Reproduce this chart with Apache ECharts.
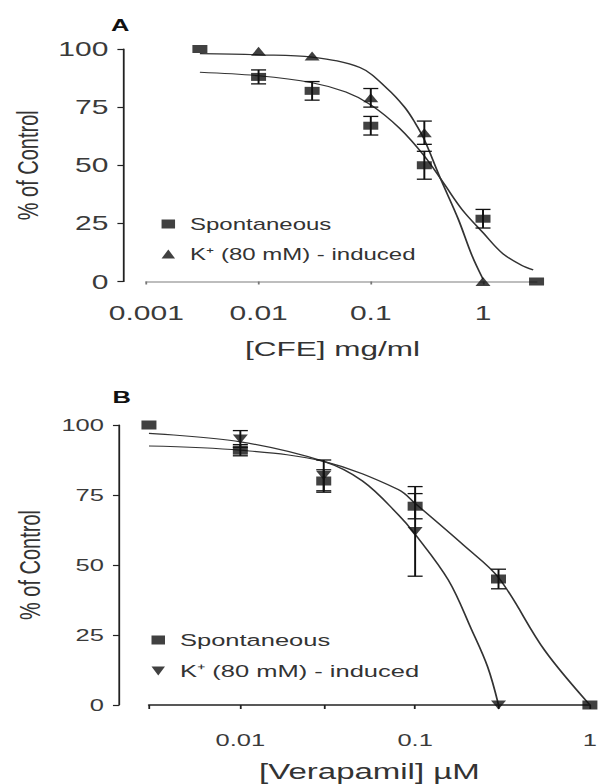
<!DOCTYPE html>
<html><head><meta charset="utf-8">
<script src="https://cdn.jsdelivr.net/npm/echarts@6/dist/echarts.min.js"></script>
<style>
html,body{margin:0;padding:0;background:#fff;overflow:hidden;width:602px;height:784px}
#chart{width:401.333px;height:784px;transform:scaleX(1.5);transform-origin:0 0;}
</style>
</head><body><div id="chart"></div>
<script>
// ---------- Panel A: CFE ----------
const aSpontConc = [0.003, 0.01, 0.03, 0.1, 0.3, 1, 3];
const aSpont     = [100, 88, 82, 67, 50, 27, 0];
const aSpontErr  = [0, 3, 4, 4, 6, 4, 0];
const aKConc     = [0.01, 0.03, 0.1, 0.3, 1];
const aK         = [99, 97, 79, 64, 0];
const aKErr      = [0, 0, 4, 5, 0];
const aSpontFitX = [0.003, 0.01, 0.03, 0.06, 0.1, 0.18, 0.3, 0.45, 0.65, 1, 1.5, 2.2, 2.8];
const aSpontFitY = [90, 88.5, 85.5, 81.5, 76, 66, 54, 42, 31, 21, 12, 7, 5];
const aKFitX     = [0.003, 0.01, 0.03, 0.08, 0.14, 0.2, 0.25, 0.3, 0.42, 0.6, 0.8, 1];
const aKFitY     = [98, 97.5, 96.5, 92, 83, 75, 68, 61, 44, 27, 11, 1];
const aTickLabels = ['0.001', '0.01', '0.1', '1'];
const aTickValues = [0.001, 0.01, 0.1, 1];

// ---------- Panel B: Verapamil ----------
const bSpontConc = [0.003, 0.01, 0.03, 0.1, 0.3, 1];
const bSpont     = [100, 91, 80, 71, 45, 0];
const bSpontErr  = [0, 2, 4, 4.5, 3.5, 0];
const bKConc     = [0.01, 0.03, 0.1, 0.3];
const bK         = [95, 82, 62, 0];
const bKErr      = [3, 5.5, 16, 0];
const bSpontFitX = [0.003, 0.01, 0.03, 0.08, 0.1, 0.19, 0.3, 0.55, 1];
const bSpontFitY = [92.5, 91, 87, 77, 72, 57, 45.5, 19.6, 0];
const bKFitX     = [0.003, 0.01, 0.03, 0.05, 0.08, 0.1, 0.155, 0.21, 0.26, 0.3];
const bKFitY     = [97, 94, 87, 80, 68, 61, 44.6, 27, 13.6, 0];
const bTickValues  = [0.003, 0.01, 0.03, 0.1, 0.3, 1];
const bLabelValues = [0.01, 0.1, 1];
const bTickLabels  = ['0.01', '0.1', '1'];

const yTicks = [0, 25, 50, 75, 100];
const nameSpont = 'Spontaneous';
const nameK = 'K\u207A (80 mM) - induced';

const FONT = "'Liberation Sans', Arial, sans-serif";
const INK = '#111';

function pairs(xs, ys) { return xs.map((x, i) => [x, ys[i]]); }
function errData(xs, ys, es) {
  return xs.map((x, i) => [x, ys[i] - es[i], ys[i] + es[i]]).filter((d, i) => es[i] > 0);
}
function labelFor(values, labels) {
  return function (v) {
    for (let i = 0; i < values.length; i++) {
      if (Math.abs(Math.log10(v) - Math.log10(values[i])) < 1e-6) return labels[i];
    }
    return '';
  };
}
function errRender(params, api) {
  const x = api.value(0), lo = api.value(1), hi = api.value(2);
  const pHi = api.coord([x, hi]), pLo = api.coord([x, lo]);
  const w = 5;
  const st = { stroke: INK, lineWidth: 1.3 };
  return {
    type: 'group', children: [
      { type: 'line', shape: { x1: pHi[0], y1: pHi[1], x2: pLo[0], y2: pLo[1] }, style: st },
      { type: 'line', shape: { x1: pHi[0] - w, y1: pHi[1], x2: pHi[0] + w, y2: pHi[1] }, style: st },
      { type: 'line', shape: { x1: pLo[0] - w, y1: pLo[1], x2: pLo[0] + w, y2: pLo[1] }, style: st }
    ]
  };
}

const chart = echarts.init(document.getElementById('chart'), null, { renderer: 'svg' });

function yAxisCfg(gridIndex, offset, nameGap, fontSize) {
  return {
    type: 'value', gridIndex, min: 0, max: 100, interval: 25, offset,
    name: '% of Control', nameLocation: 'middle', nameGap,
    nameTextStyle: { fontFamily: FONT, fontSize: 20, color: '#333' },
    axisLine: { show: true, lineStyle: { color: '#222', width: 1.2 } },
    axisTick: { show: true, length: 4, lineStyle: { color: '#222', width: 1.2 } },
    axisLabel: { margin: 10, fontFamily: FONT, fontSize, color: '#3a3a3a' },
    splitLine: { show: false }
  };
}

const option = {
  backgroundColor: '#fff',
  animation: false,
  title: [
    { text: 'A', left: 74, top: 17, padding: 0, textStyle: { fontFamily: FONT, fontSize: 17, fontWeight: 'bold', color: '#111' } },
    { text: 'B', left: 75, top: 389, padding: 0, textStyle: { fontFamily: FONT, fontSize: 17, fontWeight: 'bold', color: '#111' } }
  ],
  grid: [
    { left: 97.3, right: 43.3, top: 49, height: 232.5 },
    { left: 99.3, right: 6, top: 425, height: 281 }
  ],
  legend: [
    {
      orient: 'vertical', left: 102.7, top: 210, itemGap: 12, itemWidth: 9, itemHeight: 9,
      textStyle: { fontFamily: FONT, fontSize: 16, color: '#333', lineHeight: 18, padding: [0, 0, 0, 5] },
      selectedMode: false,
      data: [
        { name: nameSpont, icon: 'rect', itemStyle: { color: INK } },
        { name: nameK, icon: 'path://M5,0 L10,10 L0,10 Z', itemStyle: { color: INK } }
      ]
    },
    {
      orient: 'vertical', left: 96, top: 626, itemGap: 13, itemWidth: 9, itemHeight: 9,
      textStyle: { fontFamily: FONT, fontSize: 17, color: '#333', lineHeight: 18, padding: [0, 0, 0, 5] },
      selectedMode: false,
      data: [
        { name: nameSpont, icon: 'rect', itemStyle: { color: INK } },
        { name: nameK, icon: 'path://M0,0 L10,0 L5,10 Z', itemStyle: { color: INK } }
      ]
    }
  ],
  xAxis: [
    {
      type: 'log', gridIndex: 0, logBase: 10, min: 0.001, max: 3, offset: 15,
      name: '[CFE] mg/ml', nameLocation: 'middle', nameGap: 42,
      nameTextStyle: { fontFamily: FONT, fontSize: 21, color: '#333', padding: [0, 12, 0, 0] },
      axisLine: { show: true, lineStyle: { color: '#a8a8a8', width: 1.6 } },
      axisTick: { show: true, length: 3, customValues: aTickValues, lineStyle: { color: '#777', width: 1.2 } },
      axisLabel: { margin: 6, customValues: aTickValues, formatter: labelFor(aTickValues, aTickLabels), fontFamily: FONT, fontSize: 20, color: '#3a3a3a' },
      splitLine: { show: false }, minorTick: { show: false }
    },
    {
      type: 'log', gridIndex: 1, logBase: 10, min: 0.003, max: 1, offset: 21,
      name: '[Verapamil] \u00B5M', nameLocation: 'middle', nameGap: 35,
      nameTextStyle: { fontFamily: FONT, fontSize: 22, color: '#333' },
      axisLine: { show: true, lineStyle: { color: '#222', width: 1.6 } },
      axisTick: { show: true, length: 4, customValues: bTickValues, lineStyle: { color: '#222', width: 1.2 } },
      axisLabel: { margin: 6, customValues: bLabelValues, formatter: labelFor(bLabelValues, bTickLabels), fontFamily: FONT, fontSize: 17, color: '#3a3a3a' },
      splitLine: { show: false }, minorTick: { show: false }
    }
  ],
  yAxis: [
    yAxisCfg(0, 15.3, 54, 20),
    yAxisCfg(1, 20, 50, 17)
  ],
  series: [
    // Panel A
    { name: 'fitA_spont', type: 'line', xAxisIndex: 0, yAxisIndex: 0, data: pairs(aSpontFitX, aSpontFitY), smooth: 0.35, showSymbol: false, lineStyle: { color: '#333', width: 1.2 }, z: 1, silent: true },
    { name: 'fitA_k', type: 'line', xAxisIndex: 0, yAxisIndex: 0, data: pairs(aKFitX, aKFitY), smooth: 0.35, showSymbol: false, lineStyle: { color: '#333', width: 1.2 }, z: 1, silent: true },
    { name: 'errA_spont', type: 'custom', xAxisIndex: 0, yAxisIndex: 0, data: errData(aSpontConc, aSpont, aSpontErr), renderItem: errRender, z: 2, silent: true },
    { name: 'errA_k', type: 'custom', xAxisIndex: 0, yAxisIndex: 0, data: errData(aKConc, aK, aKErr), renderItem: errRender, z: 2, silent: true },
    { name: nameSpont, type: 'scatter', xAxisIndex: 0, yAxisIndex: 0, data: pairs(aSpontConc, aSpont), symbol: 'rect', symbolSize: [10, 8], itemStyle: { color: INK }, clip: false, z: 3 },
    { name: nameK, type: 'scatter', xAxisIndex: 0, yAxisIndex: 0, data: pairs(aKConc, aK), symbol: 'triangle', symbolSize: [10, 9], itemStyle: { color: INK }, clip: false, z: 3 },
    // Panel B
    { name: 'fitB_spont', type: 'line', xAxisIndex: 1, yAxisIndex: 1, data: pairs(bSpontFitX, bSpontFitY), smooth: 0.35, showSymbol: false, lineStyle: { color: '#333', width: 1.2 }, z: 1, silent: true },
    { name: 'fitB_k', type: 'line', xAxisIndex: 1, yAxisIndex: 1, data: pairs(bKFitX, bKFitY), smooth: 0.35, showSymbol: false, lineStyle: { color: '#333', width: 1.2 }, z: 1, silent: true },
    { name: 'errB_spont', type: 'custom', xAxisIndex: 1, yAxisIndex: 1, data: errData(bSpontConc, bSpont, bSpontErr), renderItem: errRender, z: 2, silent: true },
    { name: 'errB_k', type: 'custom', xAxisIndex: 1, yAxisIndex: 1, data: errData(bKConc, bK, bKErr), renderItem: errRender, z: 2, silent: true },
    { name: nameSpont, type: 'scatter', xAxisIndex: 1, yAxisIndex: 1, data: pairs(bSpontConc, bSpont), symbol: 'rect', symbolSize: [10, 9], itemStyle: { color: INK }, clip: false, z: 3 },
    { name: nameK, type: 'scatter', xAxisIndex: 1, yAxisIndex: 1, data: pairs(bKConc, bK), symbol: 'triangle', symbolRotate: 180, symbolSize: [10, 9], itemStyle: { color: INK }, clip: false, z: 3 }
  ]
};
chart.setOption(option);
</script></body></html>
